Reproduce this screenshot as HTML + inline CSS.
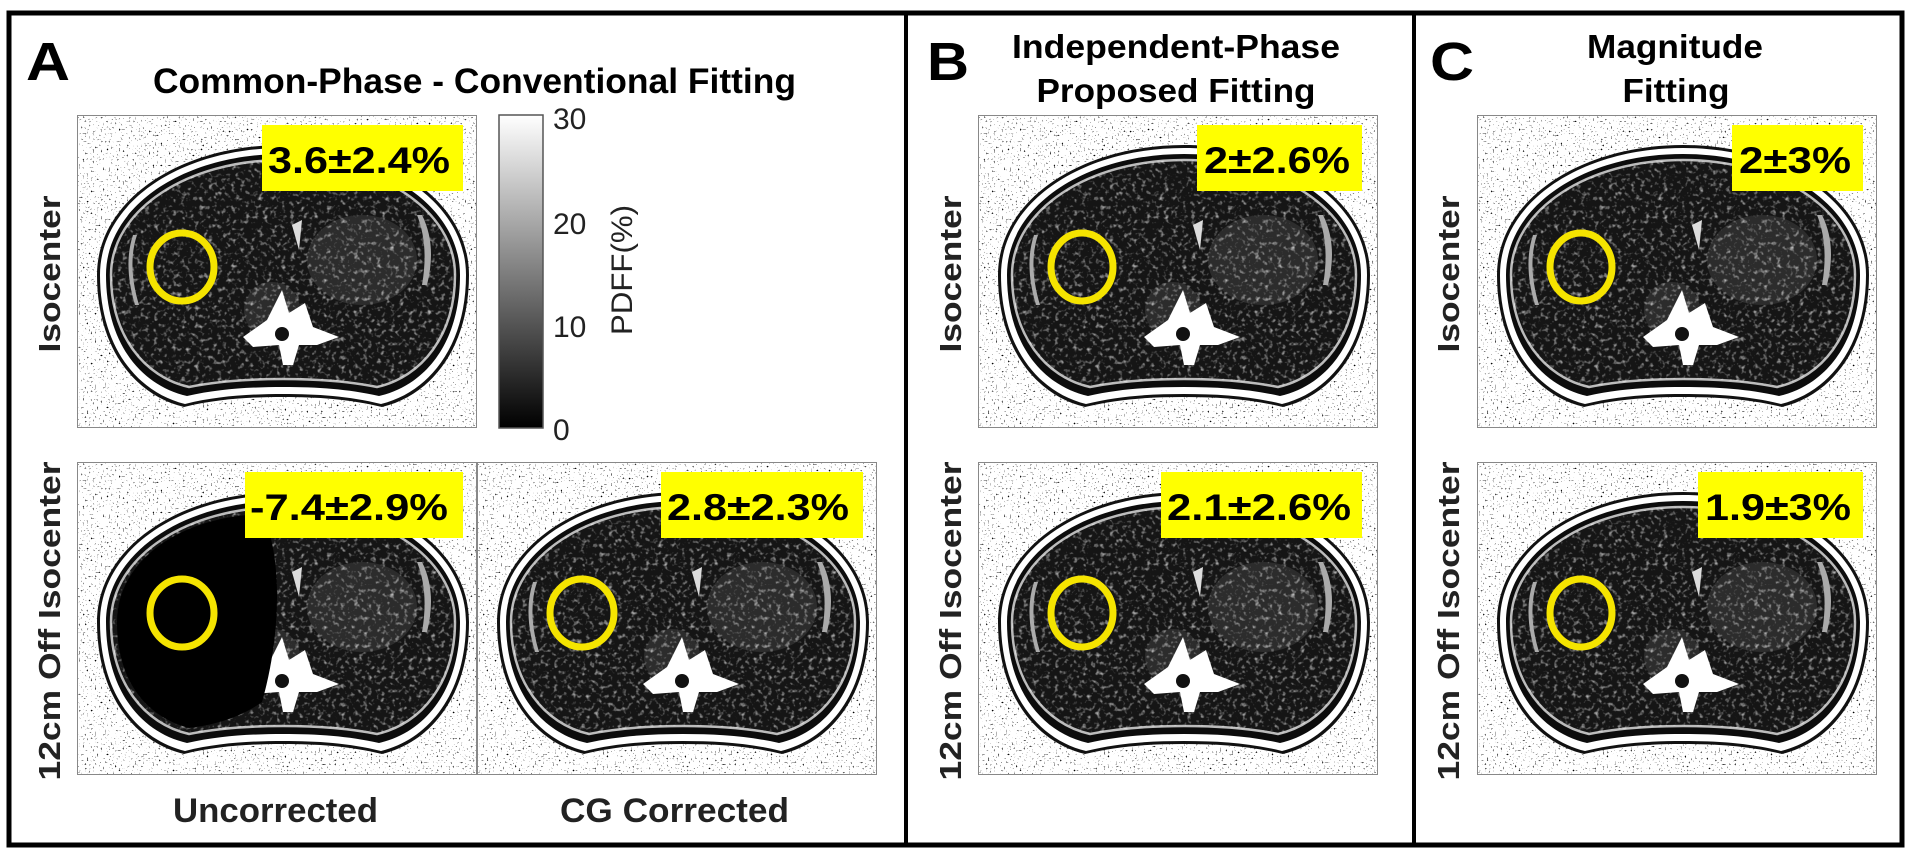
<!DOCTYPE html>
<html><head><meta charset="utf-8"><style>
html,body{margin:0;padding:0;background:#fff;}
svg{display:block;font-family:"Liberation Sans",Arial,sans-serif;}
</style></head><body>
<svg width="1917" height="862" viewBox="0 0 1917 862">
<defs>
  <filter id="speck" x="0" y="0" width="1" height="1">
    <feTurbulence type="fractalNoise" baseFrequency="0.5" numOctaves="1" seed="3" result="n"/>
    <feColorMatrix in="n" type="matrix" values="0 0 0 0 0  0 0 0 0 0  0 0 0 0 0  6 0 0 0 -3.8"/>
  </filter>
  <filter id="tex" x="0" y="0" width="1" height="1">
    <feTurbulence type="fractalNoise" baseFrequency="0.22" numOctaves="2" seed="7" result="n"/>
    <feColorMatrix in="n" type="matrix" values="0 0 0 0 1  0 0 0 0 1  0 0 0 0 1  3 0 0 0 -1.6"/>
  </filter>
  <clipPath id="innerclip"><path d="M 34 160 C 34 95 110 45 206 45 C 302 45 378 95 378 160 C 378 220 345 262 300 272 C 270 266 240 264 206 264 C 172 264 142 266 112 272 C 67 262 34 220 34 160 Z"/></clipPath>
  <g id="mri">
    <rect width="400" height="313" fill="#fff"/>
    <rect width="400" height="313" filter="url(#speck)"/>
    <path d="M 20 160 C 20 85 103 30 206 30 C 309 30 392 85 392 160 C 392 232 355 280 305 292 C 272 284 240 282 206 282 C 172 282 140 284 107 292 C 57 280 20 232 20 160 Z" fill="#111"/>
    <path d="M 23 160 C 23 87 104 33 206 33 C 308 33 389 87 389 160 C 389 230 353 277 304 289 C 272 281 240 279 206 279 C 172 279 140 281 108 289 C 59 277 23 230 23 160 Z" fill="#fff"/>
    <path d="M 29 160 C 29 91 107 39 206 39 C 305 39 383 91 383 160 C 383 226 350 270 302 281 C 271 274 240 272 206 272 C 172 272 141 274 110 281 C 62 270 29 226 29 160 Z" fill="#0c0c0c"/>
    <path d="M 34 160 C 34 95 110 45 206 45 C 302 45 378 95 378 160 C 378 220 345 262 300 272 C 270 266 240 264 206 264 C 172 264 142 266 112 272 C 67 262 34 220 34 160 Z" fill="#151515" stroke="#bbb" stroke-width="2.5"/>
    <rect width="400" height="313" filter="url(#tex)" clip-path="url(#innerclip)" opacity="0.65"/>
    <ellipse cx="285" cy="145" rx="55" ry="45" fill="#fff" opacity="0.1"/>
    <ellipse cx="195" cy="195" rx="28" ry="28" fill="#fff" opacity="0.1"/>
    <path d="M 190 205 L 205 175 L 212 198 L 228 188 L 236 212 L 262 222 L 240 230 L 222 230 L 216 250 L 206 250 L 202 230 L 176 232 L 166 222 Z" fill="#fff"/>
    <path d="M 345 100 Q 360 130 350 170 L 345 170 Q 352 130 340 100 Z M 60 120 Q 50 150 62 190 L 58 190 Q 46 150 56 120 Z" fill="#aaa"/>
    <circle cx="205" cy="219" r="7" fill="#111"/>
    <path d="M 215 110 L 225 105 L 222 135 Z" fill="#ddd"/>
    <rect x="0.5" y="0.5" width="399" height="312" fill="none" stroke="#888" stroke-width="1"/>
  </g>
  <g id="mri-dark">
    <use href="#mri"/>
    <path d="M 40 160 C 40 100 100 55 185 52 C 205 90 205 170 185 240 C 160 258 130 264 112 266 C 70 255 40 220 40 160 Z" fill="#000"/>
    <rect x="0.5" y="0.5" width="399" height="312" fill="none" stroke="#888" stroke-width="1"/>
  </g>
  <linearGradient id="cbar" x1="0" y1="1" x2="0" y2="0"><stop offset="0" stop-color="#000"/><stop offset="1" stop-color="#fff"/></linearGradient>
</defs>

<rect x="9" y="13" width="1893" height="832" fill="none" stroke="#000" stroke-width="5"/>
<line x1="906" y1="13" x2="906" y2="845" stroke="#000" stroke-width="4"/>
<line x1="1414" y1="13" x2="1414" y2="845" stroke="#000" stroke-width="4"/>

<text x="26" y="80" font-size="54" font-weight="bold" textLength="44" lengthAdjust="spacingAndGlyphs">A</text>
<text x="153" y="93" font-size="35" font-weight="bold" textLength="643" lengthAdjust="spacingAndGlyphs">Common-Phase - Conventional Fitting</text>

<svg x="77" y="115" width="400" height="313" viewBox="0 0 400 313" preserveAspectRatio="none"><use href="#mri"/></svg>
<svg x="77" y="462" width="400" height="313" viewBox="0 0 400 313" preserveAspectRatio="none"><use href="#mri-dark"/></svg>
<svg x="477" y="462" width="400" height="313" viewBox="0 0 400 313" preserveAspectRatio="none"><use href="#mri"/></svg>

<rect x="499" y="115" width="44" height="313" fill="url(#cbar)" stroke="#555" stroke-width="1.5"/>
<g font-size="30" fill="#222">
  <text x="553" y="129">30</text>
  <text x="553" y="234">20</text>
  <text x="553" y="337">10</text>
  <text x="553" y="440">0</text>
</g>
<text transform="translate(632,270) rotate(-90)" font-size="30" fill="#222" text-anchor="middle" textLength="130" lengthAdjust="spacingAndGlyphs">PDFF(%)</text>

<g font-size="31" font-weight="bold" fill="#222" text-anchor="middle">
  <text transform="translate(60,274) rotate(-90)" textLength="157" lengthAdjust="spacingAndGlyphs">Isocenter</text>
  <text transform="translate(60,621) rotate(-90)" textLength="319" lengthAdjust="spacingAndGlyphs">12cm Off Isocenter</text>
  <text transform="translate(961,274) rotate(-90)" textLength="157" lengthAdjust="spacingAndGlyphs">Isocenter</text>
  <text transform="translate(961,621) rotate(-90)" textLength="319" lengthAdjust="spacingAndGlyphs">12cm Off Isocenter</text>
  <text transform="translate(1459,274) rotate(-90)" textLength="157" lengthAdjust="spacingAndGlyphs">Isocenter</text>
  <text transform="translate(1459,621) rotate(-90)" textLength="319" lengthAdjust="spacingAndGlyphs">12cm Off Isocenter</text>
</g>

<text x="173" y="822" font-size="34" font-weight="bold" fill="#222" textLength="205" lengthAdjust="spacingAndGlyphs">Uncorrected</text>
<text x="560" y="822" font-size="34" font-weight="bold" fill="#222" textLength="229" lengthAdjust="spacingAndGlyphs">CG Corrected</text>

<text x="927" y="80" font-size="54" font-weight="bold" textLength="42" lengthAdjust="spacingAndGlyphs">B</text>
<text x="1176" y="58" font-size="33" font-weight="bold" text-anchor="middle" textLength="328" lengthAdjust="spacingAndGlyphs">Independent-Phase</text>
<text x="1176" y="102" font-size="33" font-weight="bold" text-anchor="middle" textLength="279" lengthAdjust="spacingAndGlyphs">Proposed Fitting</text>
<svg x="978" y="115" width="400" height="313" viewBox="0 0 400 313" preserveAspectRatio="none"><use href="#mri"/></svg>
<svg x="978" y="462" width="400" height="313" viewBox="0 0 400 313" preserveAspectRatio="none"><use href="#mri"/></svg>

<text x="1430" y="80" font-size="54" font-weight="bold" textLength="44" lengthAdjust="spacingAndGlyphs">C</text>
<text x="1675" y="58" font-size="33" font-weight="bold" text-anchor="middle" textLength="176" lengthAdjust="spacingAndGlyphs">Magnitude</text>
<text x="1676" y="102" font-size="33" font-weight="bold" text-anchor="middle" textLength="107" lengthAdjust="spacingAndGlyphs">Fitting</text>
<svg x="1477" y="115" width="400" height="313" viewBox="0 0 400 313" preserveAspectRatio="none"><use href="#mri"/></svg>
<svg x="1477" y="462" width="400" height="313" viewBox="0 0 400 313" preserveAspectRatio="none"><use href="#mri"/></svg>

<g fill="none" stroke="#f5e400" stroke-width="7">
  <ellipse cx="182" cy="267" rx="32" ry="34"/>
  <ellipse cx="182" cy="613" rx="32" ry="34"/>
  <ellipse cx="582" cy="613" rx="32" ry="34"/>
  <ellipse cx="1082" cy="267" rx="31" ry="34"/>
  <ellipse cx="1082" cy="613" rx="31" ry="34"/>
  <ellipse cx="1581" cy="267" rx="31" ry="34"/>
  <ellipse cx="1581" cy="613" rx="31" ry="34"/>
</g>

<g font-size="37" font-weight="bold" fill="#000">
  <rect x="262" y="125" width="201" height="66" fill="#ffff00"/>
  <text x="268" y="173" textLength="182" lengthAdjust="spacingAndGlyphs">3.6±2.4%</text>
  <rect x="245" y="472" width="218" height="66" fill="#ffff00"/>
  <text x="250" y="520" textLength="198" lengthAdjust="spacingAndGlyphs">-7.4±2.9%</text>
  <rect x="661" y="472" width="202" height="66" fill="#ffff00"/>
  <text x="667" y="520" textLength="182" lengthAdjust="spacingAndGlyphs">2.8±2.3%</text>
  <rect x="1197" y="125" width="165" height="66" fill="#ffff00"/>
  <text x="1204" y="173" textLength="146" lengthAdjust="spacingAndGlyphs">2±2.6%</text>
  <rect x="1161" y="472" width="201" height="66" fill="#ffff00"/>
  <text x="1167" y="520" textLength="184" lengthAdjust="spacingAndGlyphs">2.1±2.6%</text>
  <rect x="1732" y="125" width="131" height="66" fill="#ffff00"/>
  <text x="1739" y="173" textLength="112" lengthAdjust="spacingAndGlyphs">2±3%</text>
  <rect x="1698" y="472" width="165" height="66" fill="#ffff00"/>
  <text x="1705" y="520" textLength="146" lengthAdjust="spacingAndGlyphs">1.9±3%</text>
</g>
</svg>
</body></html>
